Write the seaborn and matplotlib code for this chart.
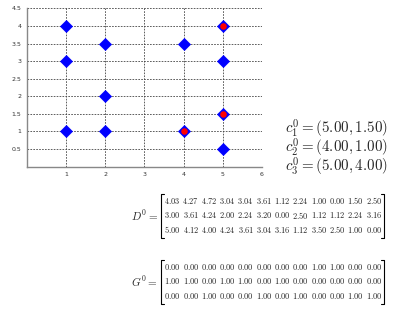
import numpy as np
import pandas as pd
import matplotlib
matplotlib.use("Agg")
import matplotlib.pyplot as plt
import seaborn as sns
from matplotlib.lines import Line2D

# ---- data ----
pts_x = [1, 1, 1, 2, 2, 2, 4, 4, 5, 5, 5, 5]
pts_y = [1, 3, 4, 1, 2, 3.5, 1, 3.5, 0.5, 1.5, 3, 4]
cent_x = [5.0, 4.0, 5.0]
cent_y = [1.5, 1.0, 4.0]
x_ticks = [1, 2, 3, 4, 5, 6]
y_ticks = [0.5, 1, 1.5, 2, 2.5, 3, 3.5, 4, 4.5]
D0 = [
    [4.03, 4.27, 4.72, 3.04, 3.04, 3.61, 1.12, 2.24, 1.00, 0.00, 1.50, 2.50],
    [3.00, 3.61, 4.24, 2.00, 2.24, 3.20, 0.00, 2.50, 1.12, 1.12, 2.24, 3.16],
    [5.00, 4.12, 4.00, 4.24, 3.61, 3.04, 3.16, 1.12, 3.50, 2.50, 1.00, 0.00],
]
G0 = [
    [0, 0, 0, 0, 0, 0, 0, 0, 1, 1, 0, 0],
    [1, 1, 0, 1, 1, 0, 1, 0, 0, 0, 0, 0],
    [0, 0, 1, 0, 0, 1, 0, 1, 0, 0, 1, 1],
]

sns.set_style("white")
plt.rcParams["mathtext.fontset"] = "cm"
plt.rcParams["font.family"] = ["DejaVu Sans"]

W, H = 400, 328
fig = plt.figure(figsize=(W / 100, H / 100), dpi=100)
ax = fig.add_axes([26.8 / W, 1 - 166.6 / H, (262 - 26.8) / W, (166.6 - 8.4) / H])

pts = pd.DataFrame({"x": pts_x, "y": pts_y})
cen = pd.DataFrame({"x": cent_x, "y": cent_y})
sns.scatterplot(data=pts, x="x", y="y", marker="D", s=38, color="#0000ff",
                edgecolor="#0000ff", linewidth=0.5, ax=ax, zorder=3)
sns.scatterplot(data=cen, x="x", y="y", marker="o", s=22, color="#ff0000",
                edgecolor="#ff0000", linewidth=0, ax=ax, zorder=4)

ax.set_xlim(0, 6)
ax.set_ylim(0, 4.5)
ax.set_xticks(x_ticks)
ax.set_yticks(y_ticks)
ax.set_xticklabels([str(t) for t in x_ticks])
ax.set_yticklabels([("%g" % t) for t in y_ticks])
ax.set_xlabel("")
ax.set_ylabel("")
ax.tick_params(axis="both", length=0, labelsize=4.5, colors="#333333", pad=4)
ax.grid(True, color="#444444", linestyle=(0, (2, 1.5)), linewidth=0.6)
for s in ["top", "right"]:
    ax.spines[s].set_visible(False)
for s in ["left", "bottom"]:
    ax.spines[s].set_color("#888888")
    ax.spines[s].set_linewidth(1.0)

def fx(px):
    return px / W

def fy(py):
    return 1 - py / H

# centroid text (one multi-line text block)
labels = [r"$c_{%d}^{0} = (%.2f, %.2f)$" % (i + 1, cx, cy)
          for i, (cx, cy) in enumerate(zip(cent_x, cent_y))]
fig.text(fx(285), fy(148), "\n".join(labels), fontsize=10.8, va="center",
         ha="left", linespacing=0.82)

def draw_matrix(name, M, top, fmt="%.2f"):
    rows_y = [top + 6 + 14.3 * r for r in range(3)]
    mid = rows_y[1]
    fig.text(fx(158), fy(mid), name, fontsize=8, ha="right", va="center")
    x0, dx = 172.5, 18.3
    for r, row in enumerate(M):
        for c, v in enumerate(row):
            fig.text(fx(x0 + dx * c), fy(rows_y[r]), r"$%s$" % (fmt % v),
                     fontsize=6, ha="center", va="center")
    y_top, y_bot = top - 1, top + 6 + 14.3 * 2 + 8
    for xb, sgn in [(161, 1), (384, -1)]:
        fig.add_artist(Line2D([fx(xb + 3 * sgn), fx(xb), fx(xb), fx(xb + 3 * sgn)],
                              [fy(y_top), fy(y_top), fy(y_bot), fy(y_bot)],
                              color="black", linewidth=0.8))

draw_matrix(r"$D^0 =$", D0, 195)
draw_matrix(r"$G^0 =$", G0, 261)

fig.savefig("out.png", dpi=100)
